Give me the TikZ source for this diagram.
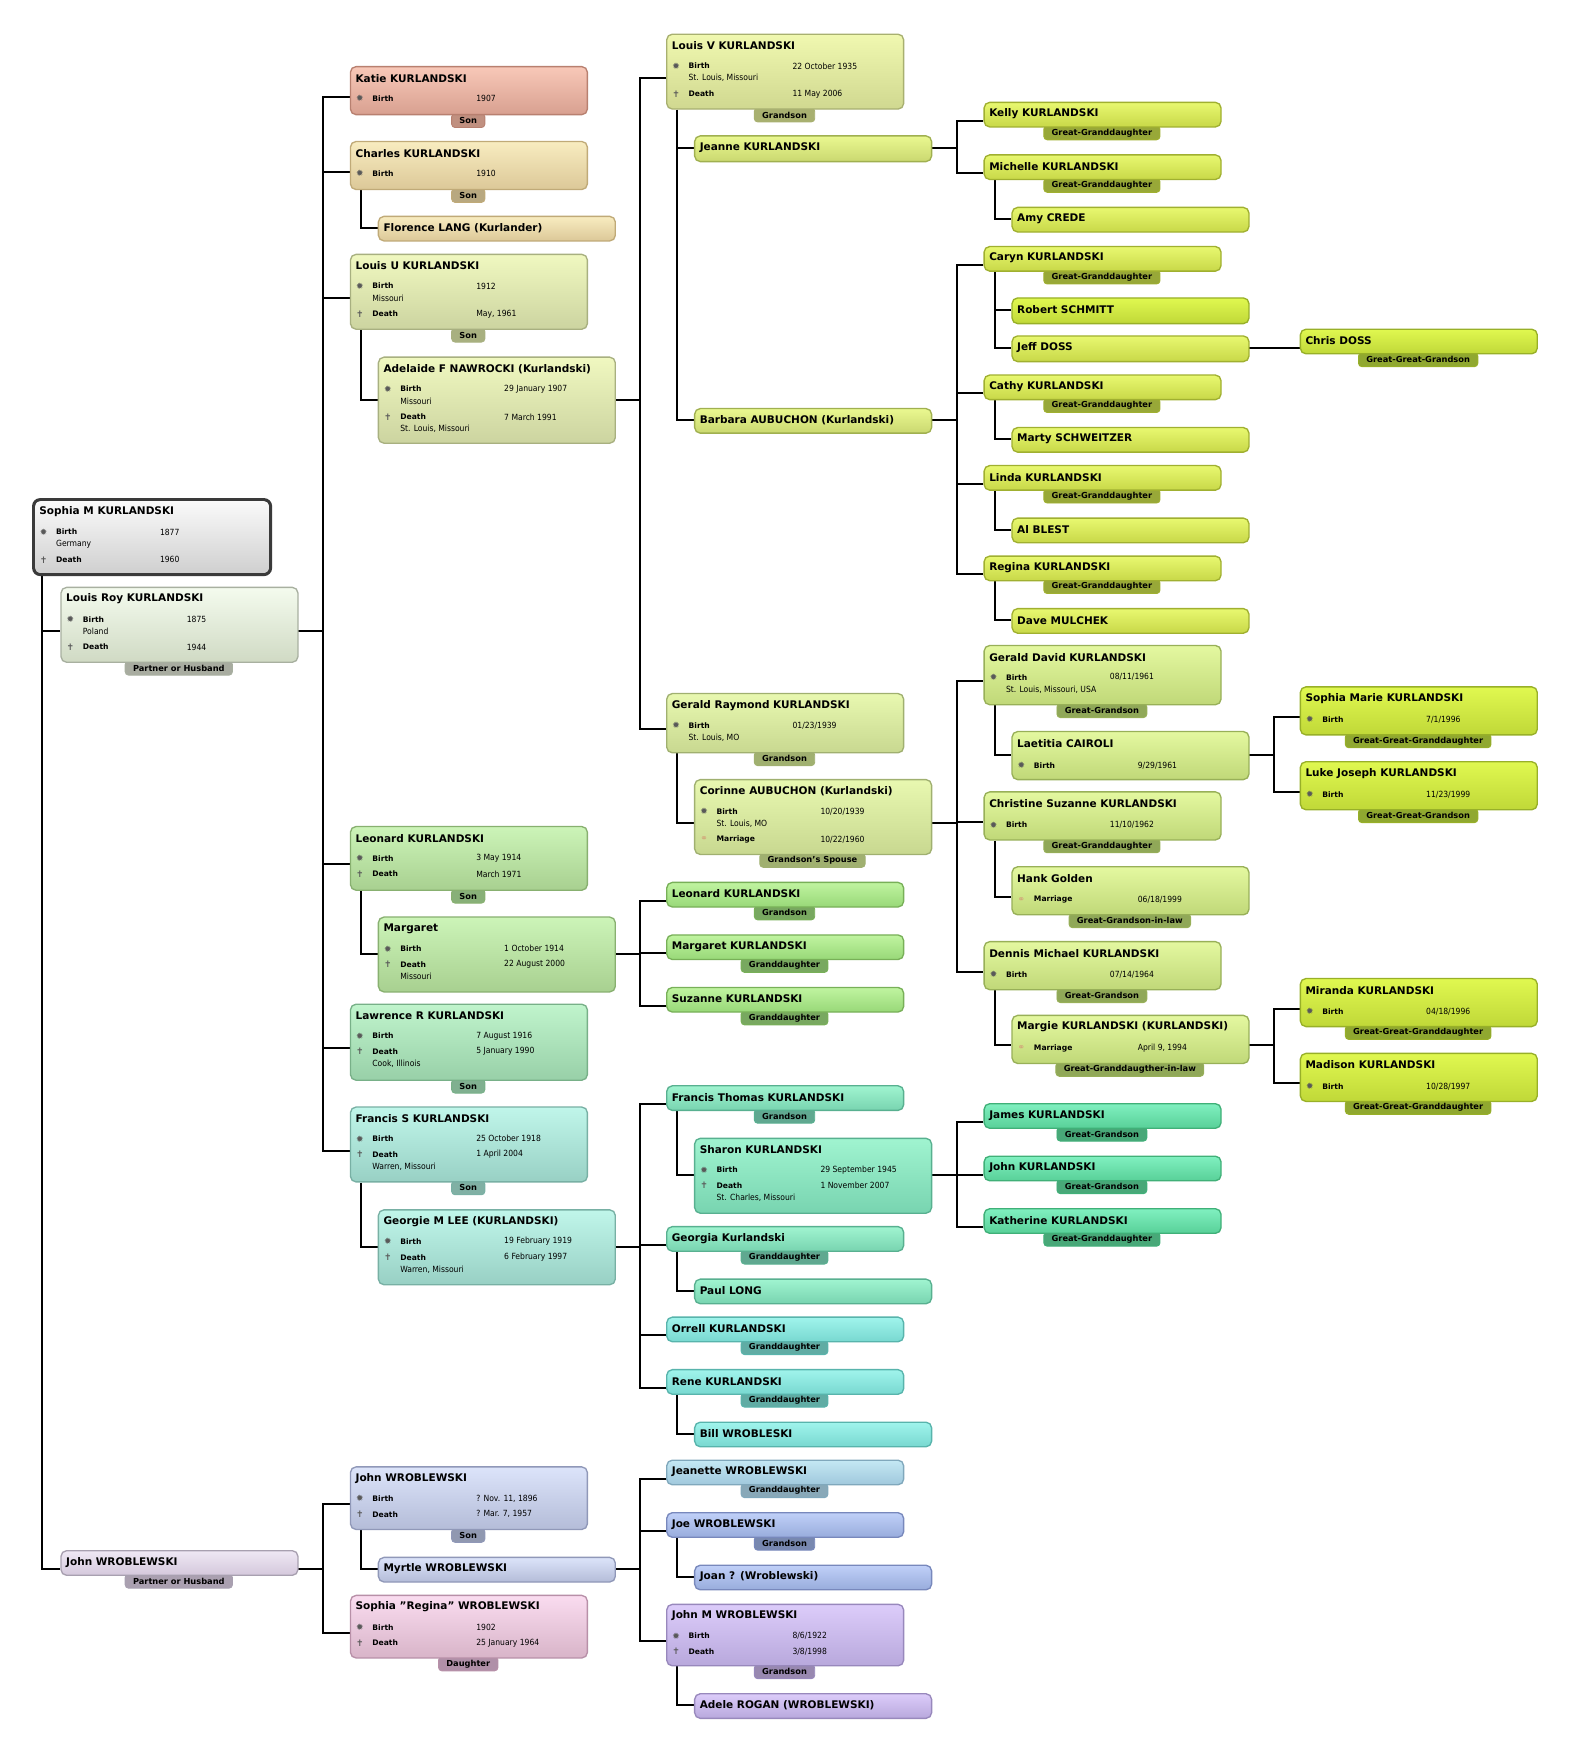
\documentclass[tikz,border=0pt]{standalone}
\usepackage{fontspec}
\setmainfont{DejaVu Sans}
\newfontfamily\cond{DejaVu Sans Condensed}
\usetikzlibrary{calc}
\pgfdeclarelayer{bg}\pgfsetlayers{bg,main}
\newcommand\cset[5]{\definecolor{#1T}{HTML}{#2}\definecolor{#1B}{HTML}{#3}\definecolor{#1D}{HTML}{#4}\definecolor{#1L}{HTML}{#5}}
\cset{gray}{FAFAFA}{CFCFCF}{3A3A3A}{AAAAAA}
\cset{lroy}{F4FBEE}{D0DAC4}{A8B0A0}{A8ACA0}
\cset{jwa}{EFE8F4}{D4C8DC}{A8A0B0}{AAA0B0}
\cset{katie}{F8C8B8}{D8A090}{B88070}{C09080}
\cset{charles}{F8ECC0}{DCC898}{C0AA78}{B8A880}
\cset{louisu}{F0F8C0}{CCD4A0}{A8B080}{A8B080}
\cset{leonard}{CCF4B8}{A8D090}{88B070}{88B078}
\cset{lawrence}{C0F4CC}{98D0A8}{78B088}{80B090}
\cset{francis}{C0F6EA}{98D0C4}{78B0A4}{80B0A4}
\cset{jwb}{DCE4FA}{B4BCD8}{9098B8}{9098B0}
\cset{regina}{FADCF0}{D8B4C8}{B890A8}{B090A8}
\cset{louisv}{F0F8B0}{D0D890}{A8B070}{A8B070}
\cset{jb}{EAF890}{CAD870}{A0B050}{A0B050}
\cset{gerald}{E8F8B0}{C8D890}{A0B070}{A0B070}
\cset{gthree}{C0F4A0}{98D878}{78B058}{78A860}
\cset{aqua}{A0F4D0}{78D4B0}{58B090}{60A890}
\cset{aquab}{A0F4EC}{78D8D0}{58B4AC}{60ACA4}
\cset{jeanette}{C4E8F4}{A0C8DC}{80A8BC}{88A8B8}
\cset{joe}{C0D0F8}{98ACDC}{7888BC}{7888B0}
\cset{johnm}{DCCCFA}{B8A8DC}{9888BC}{9888B0}
\cset{yfour}{E8F870}{C8D848}{A0B030}{98A838}
\cset{yfive}{E0F850}{C0D838}{98B028}{90A830}
\cset{lfour}{E4F8A0}{C0D878}{98B058}{90A858}
\cset{afour}{80F0C0}{58D098}{40B078}{48A878}
\tikzset{
 pbox/.style={rectangle, rounded corners=5pt, line width=1.2pt, anchor=north west, inner sep=0pt},
 tabl/.style={rectangle, rounded corners=3pt, line width=0.8pt, anchor=north, inner xsep=7pt, inner ysep=1pt, minimum height=12.5pt, font=\fontsize{7.4}{8}\selectfont\bfseries},
 ttl/.style={anchor=west, inner sep=0pt, font=\fontsize{9.4}{10}\selectfont\bfseries},
 dl/.style={anchor=west, inner sep=0pt, font=\fontsize{6.8}{7}\selectfont\bfseries},
 dv/.style={anchor=west, inner sep=0pt, font=\cond\fontsize{7.6}{8}\selectfont},
 ico/.style={anchor=center, inner sep=0pt, text=black!65, font=\fontsize{8}{8}\selectfont},
 conn/.style={line width=1.8pt, black}
}
\newcommand\icb{✹}\newcommand\icd{✝}\newcommand\icm{\textcolor{brown!70}{⚭}}
\newcommand\Bx[8]{%
 \if\relax\detokenize{#8}\relax\def\lab{0}\else\def\lab{12}\fi
 \pgfmathsetmacro\yc{(#3+#5+\lab)/2}%
 \if\relax\detokenize{#8}\relax\else \node[tabl, fill=#6L, draw=#6D] at (#2/2+#4/2,#5-0.8) {#8};\fi
 \node[pbox, top color=#6T, bottom color=#6B, draw=#6D, minimum width={(#4-#2)*1pt}, minimum height={(#5-#3)*1pt}] (#1) at (#2,#3) {};
 \node[ttl] at ([xshift=5pt,yshift=-11pt]#1.north west) {#7};
 \coordinate (#1-in) at (#2,\yc); \coordinate (#1-out) at (#4,\yc);
}
\newcommand\Rw[5]{\node[ico] at ([xshift=9pt,yshift=-#2pt]#1.north west) {\csname ic#3\endcsname};
 \node[dl] at ([xshift=20pt,yshift=-#2pt]#1.north west) {#4};
 \node[dv] at ([xshift=113pt,yshift=-#2pt]#1.north west) {#5};}
\newcommand\Pl[3]{\node[dv] at ([xshift=20pt,yshift=-#2pt]#1.north west) {#3};}
\newcommand\bus[2]{\foreach \c in {#2}{\draw[conn] (#1-out) -- ++(23,0) |- (\c-in);}}
\newcommand\spo[2]{\draw[conn] (#1.south west) ++(10,0) |- (#2-in);}
\begin{document}
\begin{tikzpicture}[x=1pt,y=-1pt]
\begin{pgfonlayer}{bg}
\fill[white] (0,0) rectangle (1410,1574);
\end{pgfonlayer}
\useasboundingbox (0,0) rectangle (1410,1574);
% generation 1
\Bx{sophia}{30}{447}{241}{513}{gray}{Sophia M KURLANDSKI}{}
\draw[line width=2.6pt, rounded corners=6pt, draw=grayD] (sophia.south west) rectangle (sophia.north east);
\Rw{sophia}{29}{b}{Birth}{1877}\Pl{sophia}{40}{Germany}\Rw{sophia}{54}{d}{Death}{1960}
\Bx{louisroy}{54}{525}{266}{592}{lroy}{Louis Roy KURLANDSKI}{Partner or Husband}
\Rw{louisroy}{29}{b}{Birth}{1875}\Pl{louisroy}{40}{Poland}\Rw{louisroy}{54}{d}{Death}{1944}
\Bx{johnwa}{54}{1387}{266}{1409}{jwa}{John WROBLEWSKI}{Partner or Husband}
% generation 2
\Bx{katie}{313}{59}{525}{102}{katie}{Katie KURLANDSKI}{Son}
\Rw{katie}{29}{b}{Birth}{1907}
\Bx{charles}{313}{126}{525}{169}{charles}{Charles KURLANDSKI}{Son}
\Rw{charles}{29}{b}{Birth}{1910}
\Bx{florence}{338}{193}{550}{215}{charles}{Florence LANG (Kurlander)}{}
\Bx{louisu}{313}{227}{525}{294}{louisu}{Louis U KURLANDSKI}{Son}
\Rw{louisu}{29}{b}{Birth}{1912}\Pl{louisu}{40}{Missouri}\Rw{louisu}{54}{d}{Death}{May, 1961}
\Bx{adelaide}{338}{319}{550}{396}{louisu}{Adelaide F NAWROCKI (Kurlandski)}{}
\Rw{adelaide}{29}{b}{Birth}{29 January 1907}\Pl{adelaide}{40}{Missouri}\Rw{adelaide}{54}{d}{Death}{7 March 1991}\Pl{adelaide}{65}{St. Louis, Missouri}
\Bx{leonard}{313}{739}{525}{796}{leonard}{Leonard KURLANDSKI}{Son}
\Rw{leonard}{29}{b}{Birth}{3 May 1914}\Rw{leonard}{43}{d}{Death}{March 1971}
\Bx{margaret}{338}{820}{550}{887}{leonard}{Margaret}{}
\Rw{margaret}{29}{b}{Birth}{1 October 1914}\Rw{margaret}{43}{d}{Death}{22 August 2000}\Pl{margaret}{54}{Missouri}
\Bx{lawrence}{313}{898}{525}{966}{lawrence}{Lawrence R KURLANDSKI}{Son}
\Rw{lawrence}{29}{b}{Birth}{7 August 1916}\Rw{lawrence}{43}{d}{Death}{5 January 1990}\Pl{lawrence}{54}{Cook, Illinois}
\Bx{francis}{313}{990}{525}{1057}{francis}{Francis S KURLANDSKI}{Son}
\Rw{francis}{29}{b}{Birth}{25 October 1918}\Rw{francis}{43}{d}{Death}{1 April 2004}\Pl{francis}{54}{Warren, Missouri}
\Bx{georgie}{338}{1082}{550}{1149}{francis}{Georgie M LEE (KURLANDSKI)}{}
\Rw{georgie}{29}{b}{Birth}{19 February 1919}\Rw{georgie}{43}{d}{Death}{6 February 1997}\Pl{georgie}{54}{Warren, Missouri}
\Bx{johnwb}{313}{1312}{525}{1368}{jwb}{John WROBLEWSKI}{Son}
\Rw{johnwb}{29}{b}{Birth}{? Nov. 11, 1896}\Rw{johnwb}{43}{d}{Death}{? Mar. 7, 1957}
\Bx{myrtle}{338}{1393}{550}{1415}{jwb}{Myrtle WROBLEWSKI}{}
\Bx{regina}{313}{1427}{525}{1483}{regina}{Sophia \symbol{34}Regina\symbol{34} WROBLEWSKI}{Daughter}
\Rw{regina}{29}{b}{Birth}{1902}\Rw{regina}{43}{d}{Death}{25 January 1964}
% generation 3
\Bx{louisv}{596}{30}{808}{97}{louisv}{Louis V KURLANDSKI}{Grandson}
\Rw{louisv}{29}{b}{Birth}{22 October 1935}\Pl{louisv}{40}{St. Louis, Missouri}\Rw{louisv}{54}{d}{Death}{11 May 2006}
\Bx{jeanne}{621}{121}{833}{144}{jb}{Jeanne KURLANDSKI}{}
\Bx{barbara}{621}{365}{833}{387}{jb}{Barbara AUBUCHON (Kurlandski)}{}
\Bx{gerald}{596}{620}{808}{673}{gerald}{Gerald Raymond KURLANDSKI}{Grandson}
\Rw{gerald}{29}{b}{Birth}{01/23/1939}\Pl{gerald}{40}{St. Louis, MO}
\Bx{corinne}{621}{697}{833}{764}{gerald}{Corinne AUBUCHON (Kurlandski)}{Grandson's Spouse}
\Rw{corinne}{29}{b}{Birth}{10/20/1939}\Pl{corinne}{40}{St. Louis, MO}\Rw{corinne}{54}{m}{Marriage}{10/22/1960}
\Bx{leonard3}{596}{789}{808}{811}{gthree}{Leonard KURLANDSKI}{Grandson}
\Bx{margaret3}{596}{836}{808}{858}{gthree}{Margaret KURLANDSKI}{Granddaughter}
\Bx{suzanne}{596}{883}{808}{905}{gthree}{Suzanne KURLANDSKI}{Granddaughter}
\Bx{francist}{596}{971}{808}{993}{aqua}{Francis Thomas KURLANDSKI}{Grandson}
\Bx{sharon}{621}{1018}{833}{1085}{aqua}{Sharon KURLANDSKI}{}
\Rw{sharon}{29}{b}{Birth}{29 September 1945}\Rw{sharon}{43}{d}{Death}{1 November 2007}\Pl{sharon}{54}{St. Charles, Missouri}
\Bx{georgia}{596}{1097}{808}{1119}{aqua}{Georgia Kurlandski}{Granddaughter}
\Bx{paul}{621}{1144}{833}{1166}{aqua}{Paul LONG}{}
\Bx{orrell}{596}{1178}{808}{1200}{aquab}{Orrell KURLANDSKI}{Granddaughter}
\Bx{rene}{596}{1225}{808}{1247}{aquab}{Rene KURLANDSKI}{Granddaughter}
\Bx{bill}{621}{1272}{833}{1294}{aquab}{Bill WROBLESKI}{}
\Bx{jeanette}{596}{1306}{808}{1328}{jeanette}{Jeanette WROBLEWSKI}{Granddaughter}
\Bx{joe}{596}{1353}{808}{1375}{joe}{Joe WROBLEWSKI}{Grandson}
\Bx{joan}{621}{1400}{833}{1422}{joe}{Joan ? (Wroblewski)}{}
\Bx{johnm}{596}{1435}{808}{1490}{johnm}{John M WROBLEWSKI}{Grandson}
\Rw{johnm}{29}{b}{Birth}{8/6/1922}\Rw{johnm}{43}{d}{Death}{3/8/1998}
\Bx{adele}{621}{1515}{833}{1537}{johnm}{Adele ROGAN (WROBLEWSKI)}{}
% generation 4
\Bx{kelly}{880}{91}{1092}{113}{yfour}{Kelly KURLANDSKI}{Great-Granddaughter}
\Bx{michelle}{880}{138}{1092}{160}{yfour}{Michelle KURLANDSKI}{Great-Granddaughter}
\Bx{amy}{905}{185}{1117}{207}{yfour}{Amy CREDE}{}
\Bx{caryn}{880}{220}{1092}{242}{yfour}{Caryn KURLANDSKI}{Great-Granddaughter}
\Bx{robert}{905}{266}{1117}{289}{yfive}{Robert SCHMITT}{}
\Bx{jeff}{905}{300}{1117}{323}{yfour}{Jeff DOSS}{}
\Bx{chris}{1163}{294}{1375}{316}{yfive}{Chris DOSS}{Great-Great-Grandson}
\Bx{cathy}{880}{335}{1092}{357}{yfour}{Cathy KURLANDSKI}{Great-Granddaughter}
\Bx{marty}{905}{382}{1117}{404}{yfour}{Marty SCHWEITZER}{}
\Bx{linda}{880}{416}{1092}{438}{yfour}{Linda KURLANDSKI}{Great-Granddaughter}
\Bx{al}{905}{463}{1117}{485}{yfour}{Al BLEST}{}
\Bx{regina4}{880}{497}{1092}{519}{yfour}{Regina KURLANDSKI}{Great-Granddaughter}
\Bx{dave}{905}{544}{1117}{566}{yfour}{Dave MULCHEK}{}
\Bx{geralddavid}{880}{577}{1092}{630}{lfour}{Gerald David KURLANDSKI}{Great-Grandson}
\Rw{geralddavid}{29}{b}{Birth}{08/11/1961}\Pl{geralddavid}{40}{St. Louis, Missouri, USA}
\Bx{laetitia}{905}{654}{1117}{697}{lfour}{Laetitia CAIROLI}{}
\Rw{laetitia}{31}{b}{Birth}{9/29/1961}
\Bx{sophiamarie}{1163}{614}{1375}{657}{yfive}{Sophia Marie KURLANDSKI}{Great-Great-Granddaughter}
\Rw{sophiamarie}{30}{b}{Birth}{7/1/1996}
\Bx{luke}{1163}{681}{1375}{724}{yfive}{Luke Joseph KURLANDSKI}{Great-Great-Grandson}
\Rw{luke}{30}{b}{Birth}{11/23/1999}
\Bx{christine}{880}{708}{1092}{751}{lfour}{Christine Suzanne KURLANDSKI}{Great-Granddaughter}
\Rw{christine}{30}{b}{Birth}{11/10/1962}
\Bx{hank}{905}{775}{1117}{818}{lfour}{Hank Golden}{Great-Grandson-in-law}
\Rw{hank}{30}{m}{Marriage}{06/18/1999}
\Bx{dennis}{880}{842}{1092}{885}{lfour}{Dennis Michael KURLANDSKI}{Great-Grandson}
\Rw{dennis}{30}{b}{Birth}{07/14/1964}
\Bx{margie}{905}{908}{1117}{951}{lfour}{Margie KURLANDSKI (KURLANDSKI)}{Great-Granddaugther-in-law}
\Rw{margie}{30}{m}{Marriage}{April 9, 1994}
\Bx{miranda}{1163}{875}{1375}{918}{yfive}{Miranda KURLANDSKI}{Great-Great-Granddaughter}
\Rw{miranda}{30}{b}{Birth}{04/18/1996}
\Bx{madison}{1163}{942}{1375}{985}{yfive}{Madison KURLANDSKI}{Great-Great-Granddaughter}
\Rw{madison}{30}{b}{Birth}{10/28/1997}
\Bx{james}{880}{987}{1092}{1009}{afour}{James KURLANDSKI}{Great-Grandson}
\Bx{johnk}{880}{1034}{1092}{1056}{afour}{John KURLANDSKI}{Great-Grandson}
\Bx{katherine}{880}{1081}{1092}{1103}{afour}{Katherine KURLANDSKI}{Great-Granddaughter}
% connectors
\begin{pgfonlayer}{bg}
\draw[conn] (sophia.south west) ++(8,0) |- (louisroy-in);
\draw[conn] (sophia.south west) ++(8,0) |- (johnwa-in);
\bus{louisroy}{katie,charles,louisu,leonard,lawrence,francis}
\spo{charles}{florence}\spo{louisu}{adelaide}\spo{leonard}{margaret}\spo{francis}{georgie}
\bus{johnwa}{johnwb,regina}\spo{johnwb}{myrtle}
\bus{adelaide}{louisv,gerald}
\spo{louisv}{jeanne}\spo{louisv}{barbara}
\bus{jeanne}{kelly,michelle}\spo{michelle}{amy}
\bus{barbara}{caryn,cathy,linda,regina4}
\spo{caryn}{robert}\spo{caryn}{jeff}\bus{jeff}{chris}
\spo{cathy}{marty}\spo{linda}{al}\spo{regina4}{dave}
\spo{gerald}{corinne}\bus{corinne}{geralddavid,christine,dennis}
\spo{geralddavid}{laetitia}\bus{laetitia}{sophiamarie,luke}
\spo{christine}{hank}\spo{dennis}{margie}\bus{margie}{miranda,madison}
\bus{margaret}{leonard3,margaret3,suzanne}
\bus{georgie}{francist,georgia,orrell,rene}
\spo{francist}{sharon}\bus{sharon}{james,johnk,katherine}
\spo{georgia}{paul}\spo{rene}{bill}
\bus{myrtle}{jeanette,joe,johnm}\spo{joe}{joan}\spo{johnm}{adele}
\end{pgfonlayer}
\end{tikzpicture}
\end{document}
